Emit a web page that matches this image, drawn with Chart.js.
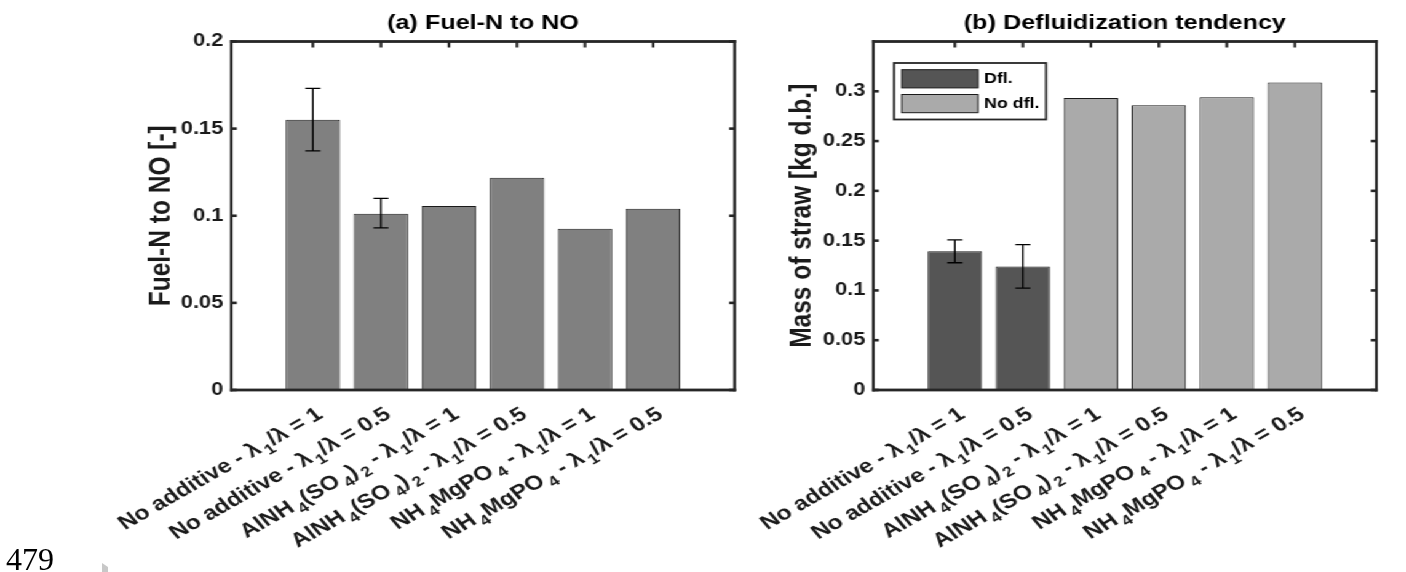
<!DOCTYPE html>
<html>
<head>
<meta charset="utf-8">
<script src="https://cdn.jsdelivr.net/npm/chart.js@4.4.1/dist/chart.umd.min.js"></script>
<style>
  html, body { margin: 0; padding: 0; background: #fff; width: 1406px; height: 572px; overflow: hidden; }
  #fig { position: absolute; left: 0; top: 0; width: 1143px; height: 572px; transform: scaleX(1.23); transform-origin: 0 0; }
  #cA { position: absolute; left: 0; top: 0; width: 620px; height: 572px; }
  #cB { position: absolute; left: 560px; top: 0; width: 583px; height: 572px; }
  #pagenum { position: absolute; left: 6px; top: 542.5px; font-family: "Liberation Serif", "Times New Roman", serif; font-size: 32px; line-height: 32px; color: #000; }
  #mark { position: absolute; left: 102px; top: 563px; width: 6px; height: 9px; background: #c8c8c8; clip-path: polygon(0 0, 100% 45%, 100% 100%, 0 100%); }
</style>
</head>
<body>
<div id="fig">
  <canvas id="cA" width="620" height="572"></canvas>
  <canvas id="cB" width="583" height="572"></canvas>
</div>
<div id="pagenum">479</div>
<div id="mark"></div>
<script>
// ---------------- data ----------------
const categories = [
  'No additive - \u03bb_1/\u03bb = 1',
  'No additive - \u03bb_1/\u03bb = 0.5',
  'AlNH_4(SO_4)_2 - \u03bb_1/\u03bb = 1',
  'AlNH_4(SO_4)_2 - \u03bb_1/\u03bb = 0.5',
  'NH_4MgPO_4 - \u03bb_1/\u03bb = 1',
  'NH_4MgPO_4 - \u03bb_1/\u03bb = 0.5'
];
const xPositions = [1, 2, 3, 4, 5, 6];

const fuelN        = [0.1551, 0.1012, 0.1056, 0.1218, 0.0926, 0.1040];
const fuelNErrLow  = [0.1372, 0.0930, null, null, null, null];
const fuelNErrHigh = [0.1731, 0.1100, null, null, null, null];

const massDfl      = [0.1393, 0.1240, null, null, null, null];
const massNoDfl    = [null, null, 0.2933, 0.2860, 0.2940, 0.3087];
const massErrLow   = [0.1278, 0.1023, null, null, null, null];
const massErrHigh  = [0.1507, 0.1460, null, null, null, null];

const yTicksA = [0, 0.05, 0.1, 0.15, 0.2];
const yTicksB = [0, 0.05, 0.1, 0.15, 0.2, 0.25, 0.3];

// ---------------- helpers ----------------
const FONT = '"Liberation Sans", Arial, Helvetica, sans-serif';
Chart.defaults.font.family = FONT;
Chart.defaults.color = '#1a1a1a';

const fmtTick = v => String(Math.round(v * 1000) / 1000);
const toPoints = arr => arr.map((v, i) => ({ x: xPositions[i], y: v }));

function boxPlugin() {
  return {
    id: 'matlabBox',
    afterDraw(chart) {
      const { ctx, chartArea: a, scales: { x, y } } = chart;
      ctx.save();
      ctx.fillStyle = '#262626';
      x.ticks.forEach(t => {
        const px = x.getPixelForValue(t.value);
        ctx.fillRect(px - 1.1, a.top, 2.2, 6);
      });
      y.ticks.forEach(t => {
        const py = y.getPixelForValue(t.value);
        ctx.fillRect(a.left, py - 1.3, 4.5, 2.6);
        ctx.fillRect(a.right - 4.5, py - 1.3, 4.5, 2.6);
      });
      const w = a.right - a.left, h = a.bottom - a.top;
      ctx.fillRect(a.left - 1.1, a.top - 1.4, w + 2.2, 2.8);
      ctx.fillRect(a.left - 1.1, a.bottom - 1.4, w + 2.2, 2.8);
      ctx.fillRect(a.left - 1.1, a.top - 1.4, 2.2, h + 2.8);
      ctx.fillRect(a.right - 1.1, a.top - 1.4, 2.2, h + 2.8);
      ctx.restore();
    }
  };
}

function errorBarPlugin(dsIndex, low, high) {
  return {
    id: 'errorBars',
    afterDatasetsDraw(chart) {
      const { ctx, scales: { x, y } } = chart;
      ctx.save();
      ctx.strokeStyle = '#000';
      ctx.lineWidth = 1.3;
      low.forEach((lo, i) => {
        const hi = high[i];
        if (lo == null || hi == null) return;
        const px = x.getPixelForValue(xPositions[i]);
        const y1 = y.getPixelForValue(lo), y2 = y.getPixelForValue(hi);
        ctx.beginPath();
        ctx.moveTo(px, y1); ctx.lineTo(px, y2);
        ctx.moveTo(px - 6.1, y1); ctx.lineTo(px + 6.1, y1);
        ctx.moveTo(px - 6.1, y2); ctx.lineTo(px + 6.1, y2);
        ctx.stroke();
      });
      ctx.restore();
    }
  };
}

function parseRich(label) {
  const segs = [];
  let cur = '';
  for (let i = 0; i < label.length; i++) {
    const ch = label[i];
    if (ch === '_' && i + 1 < label.length) {
      if (cur) segs.push({ t: cur, sub: false });
      cur = '';
      segs.push({ t: label[i + 1], sub: true });
      i++;
    } else cur += ch;
  }
  if (cur) segs.push({ t: cur, sub: false });
  return segs;
}

function xLabelPlugin(labels, opt) {
  return {
    id: 'richXLabels',
    afterDraw(chart) {
      const { ctx, chartArea: a, scales: { x } } = chart;
      const fs = opt.size, fsSub = fs * 0.72;
      const fMain = 'bold ' + fs + 'px ' + FONT;
      const fSub = 'bold ' + fsSub + 'px ' + FONT;
      labels.forEach((lab, i) => {
        const px = x.getPixelForValue(xPositions[i]);
        const segs = parseRich(lab);
        ctx.save();
        let total = 0;
        segs.forEach(s => {
          ctx.font = s.sub ? fSub : fMain;
          s.w = ctx.measureText(s.t).width;
          s.gap = s.sub ? fs * 0.12 : 0;
          total += s.w + s.gap;
        });
        ctx.translate(px + opt.dx, a.bottom + opt.dy);
        ctx.rotate(-opt.angle * Math.PI / 180);
        ctx.textAlign = 'left';
        ctx.textBaseline = 'alphabetic';
        ctx.fillStyle = '#1a1a1a';
        const base = fs * 0.72;
        let cx = -total;
        segs.forEach(s => {
          cx += s.gap;
          ctx.font = s.sub ? fSub : fMain;
          ctx.fillText(s.t, cx, s.sub ? base + fs * 0.3 : base);
          cx += s.w;
        });
        ctx.restore();
      });
    }
  };
}

const legendPlugin = {
  id: 'boxLegend',
  afterDraw(chart) {
    const { ctx, chartArea: a } = chart;
    const L = a.left, T = a.top;
    ctx.save();
    ctx.fillStyle = '#fff';
    ctx.fillRect(L + 16.8, T + 21.5, 123.6, 56.5);
    ctx.strokeStyle = '#262626';
    ctx.lineWidth = 1.8;
    ctx.strokeRect(L + 16.8, T + 21.5, 123.6, 56.5);
    chart.data.datasets.forEach((ds, i) => {
      const sy = T + 28.2 + i * 24.8;
      ctx.fillStyle = ds.backgroundColor;
      ctx.fillRect(L + 23.1, sy, 62, 18.2);
      ctx.strokeStyle = '#1a1a1a';
      ctx.lineWidth = 1;
      ctx.strokeRect(L + 23.1, sy, 62, 18.2);
      ctx.fillStyle = '#000';
      ctx.font = 'bold 14.5px ' + FONT;
      ctx.textAlign = 'left';
      ctx.textBaseline = 'middle';
      ctx.fillText(ds.label, L + 90, sy + 9.3);
    });
    ctx.restore();
  }
};

function xScale() {
  return {
    type: 'linear', min: -0.2, max: 7.2, offset: false,
    grid: { display: false, drawTicks: false }, border: { display: false },
    ticks: { display: false },
    afterBuildTicks: s => { s.ticks = xPositions.map(v => ({ value: v })); },
    afterFit: s => { s.height = 182; }
  };
}

function yScale(max, ticks, width, title, titlePad) {
  return {
    type: 'linear', min: 0, max: max,
    grid: { display: false, drawTicks: false }, border: { display: false },
    ticks: { padding: 6.5, color: '#1a1a1a', font: { size: 17.7, weight: 'bold' }, callback: v => fmtTick(v) },
    afterBuildTicks: s => { s.ticks = ticks.map(v => ({ value: v })); },
    afterFit: s => { s.width = width; },
    title: { display: true, text: title, color: '#1a1a1a', font: { size: 24.5, weight: 'bold' }, padding: { top: titlePad, bottom: 0 } }
  };
}

function titleOpts(text) {
  return { display: true, text: text, fullSize: false, color: '#000', font: { size: 20.5, weight: 'bold' }, padding: { top: 11, bottom: 5.9 } };
}

const labelOpt = { size: 20, angle: 35, dx: 1, dy: 15 };

// ---------------- chart (a) ----------------
new Chart(document.getElementById('cA'), {
  type: 'bar',
  data: {
    datasets: [{
      label: 'Fuel-N to NO',
      data: toPoints(fuelN),
      backgroundColor: '#808080', borderColor: '#1a1a1a', borderWidth: 1,
      categoryPercentage: 1, barPercentage: 0.8
    }]
  },
  options: {
    responsive: false, animation: false,
    layout: { padding: { left: 0, right: 22.7, top: 0, bottom: 0 } },
    plugins: { legend: { display: false }, tooltip: { enabled: false }, title: titleOpts('(a) Fuel-N to NO') },
    scales: { x: xScale(), y: yScale(0.2, yTicksA, 188, 'Fuel-N to NO [-]', 116.4) }
  },
  plugins: [errorBarPlugin(0, fuelNErrLow, fuelNErrHigh), boxPlugin(), xLabelPlugin(categories, labelOpt)]
});

// ---------------- chart (b) ----------------
new Chart(document.getElementById('cB'), {
  type: 'bar',
  data: {
    datasets: [{
      label: 'Dfl.',
      data: toPoints(massDfl),
      backgroundColor: '#555555', borderColor: '#1a1a1a', borderWidth: 1,
      categoryPercentage: 1, barPercentage: 0.8, grouped: false
    }, {
      label: 'No dfl.',
      data: toPoints(massNoDfl),
      backgroundColor: '#aaaaaa', borderColor: '#1a1a1a', borderWidth: 1,
      categoryPercentage: 1, barPercentage: 0.8, grouped: false
    }]
  },
  options: {
    responsive: false, animation: false,
    layout: { padding: { left: 0, right: 24, top: 0, bottom: 0 } },
    plugins: { legend: { display: false }, tooltip: { enabled: false }, title: titleOpts('(b) Defluidization tendency') },
    scales: { x: xScale(), y: yScale(0.35, yTicksB, 150, 'Mass of straw [kg d.b.]', 77.7) }
  },
  plugins: [errorBarPlugin(0, massErrLow, massErrHigh), boxPlugin(), legendPlugin, xLabelPlugin(categories, labelOpt)]
});
</script>
</body>
</html>
